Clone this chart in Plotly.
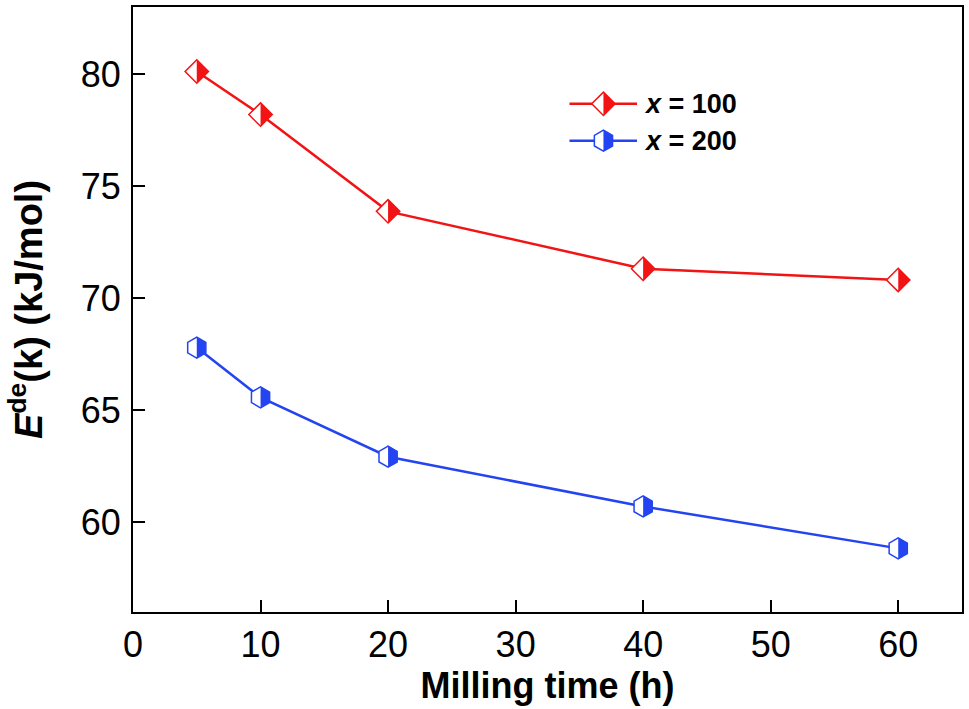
import plotly.graph_objs as go

# milling time (h)
milling_time = [5, 10, 20, 40, 60]
# desorption activation energy (kJ/mol)
e_x100 = [80.12, 78.2, 73.88, 71.32, 70.82]
e_x200 = [67.8, 65.58, 62.93, 60.71, 58.84]

series_names = ["x = 100", "x = 200"]
x_ticks = [0, 10, 20, 30, 40, 50, 60]
y_ticks = [60, 65, 70, 75, 80]

RED = "#f21414"
BLUE = "#2344f0"
FONT = "Liberation Sans, Arial, sans-serif"

DIAMOND_SIZE = 18
HEX_SIZE = 21


def diamond_paths(size):
    rd = round(size / 2 * 1.3, 2)
    outline = f"M{rd},0L0,{rd}L-{rd},0L0,-{rd}Z"
    half = f"M0,-{rd}L{rd},0L0,{rd}Z"
    return outline, half


def hexagon_paths(size):
    r = size / 2
    rt = round(r / 2, 2)
    rs = round(r * 3 ** 0.5 / 2, 2)
    outline = f"M{rs},-{rt}V{rt}L0,{r}L-{rs},{rt}V-{rt}L0,-{r}Z"
    half = f"M0,-{r}L{rs},-{rt}V{rt}L0,{r}Z"
    return outline, half


fig = go.Figure()

fig.add_trace(go.Scatter(
    x=milling_time, y=e_x100, mode="lines+markers", name=series_names[0],
    line=dict(color=RED, width=2.5),
    marker=dict(symbol="diamond", size=DIAMOND_SIZE, color="white",
                line=dict(color=RED, width=1.5)),
))
fig.add_trace(go.Scatter(
    x=milling_time, y=e_x200, mode="lines+markers", name=series_names[1],
    line=dict(color=BLUE, width=2.5),
    marker=dict(symbol="hexagon", size=HEX_SIZE, color="white",
                line=dict(color=BLUE, width=1.5)),
))

shapes = []
# filled right halves of the markers
for ys, color, paths in [(e_x100, RED, diamond_paths(DIAMOND_SIZE)),
                         (e_x200, BLUE, hexagon_paths(HEX_SIZE))]:
    for xv, yv in zip(milling_time, ys):
        shapes.append(dict(type="path", xref="x", yref="y",
                           xsizemode="pixel", ysizemode="pixel",
                           xanchor=xv, yanchor=yv, path=paths[1],
                           fillcolor=color, line=dict(width=0)))

# hand made legend
annotations = []
legend_rows = [(0.840, RED, diamond_paths(DIAMOND_SIZE)),
               (0.779, BLUE, hexagon_paths(HEX_SIZE))]
for (ly, color, paths), name in zip(legend_rows, series_names):
    shapes.append(dict(type="line", xref="paper", yref="paper",
                       x0=0.5265, x1=0.608, y0=ly, y1=ly,
                       line=dict(color=color, width=2.5)))
    shapes.append(dict(type="path", xref="paper", yref="paper",
                       xsizemode="pixel", ysizemode="pixel",
                       xanchor=0.5675, yanchor=ly, path=paths[0],
                       fillcolor="white", line=dict(color=color, width=1.5)))
    shapes.append(dict(type="path", xref="paper", yref="paper",
                       xsizemode="pixel", ysizemode="pixel",
                       xanchor=0.5675, yanchor=ly, path=paths[1],
                       fillcolor=color, line=dict(width=0)))
    annotations.append(dict(
        xref="paper", yref="paper", x=0.614, y=ly, xanchor="left",
        yanchor="middle", showarrow=False,
        text="<b><i>x</i>" + name[1:] + "</b>",
        font=dict(family=FONT, size=27, color="black"),
    ))

fig.update_layout(
    width=969, height=709,
    margin=dict(l=133, r=6, t=5, b=97),
    plot_bgcolor="white", paper_bgcolor="white",
    showlegend=False,
    font=dict(family=FONT, color="black"),
    shapes=shapes,
    annotations=annotations,
)

fig.update_xaxes(
    range=[0, 65], tickvals=x_ticks,
    showline=True, mirror=True, linecolor="black", linewidth=2,
    ticks="inside", ticklen=12, tickwidth=2, tickcolor="black",
    showgrid=False, zeroline=False,
    tickfont=dict(size=36),
    title=dict(text="<b>Milling time (h)</b>", font=dict(size=36), standoff=4),
)
fig.update_yaxes(
    range=[56, 83], tickvals=y_ticks,
    showline=True, mirror=True, linecolor="black", linewidth=2,
    ticks="inside", ticklen=12, tickwidth=2, tickcolor="black",
    showgrid=False, zeroline=False,
    tickfont=dict(size=36), ticklabelstandoff=3,
    title=dict(text="<b><i>E</i><sup>de</sup>(k) (kJ/mol)</b>",
               font=dict(size=38), standoff=26),
)

# page body margin off so the figure sits at the window corner
fig.write_html("out.html", config={"displayModeBar": False},
               post_script="document.body.style.margin='0';")
